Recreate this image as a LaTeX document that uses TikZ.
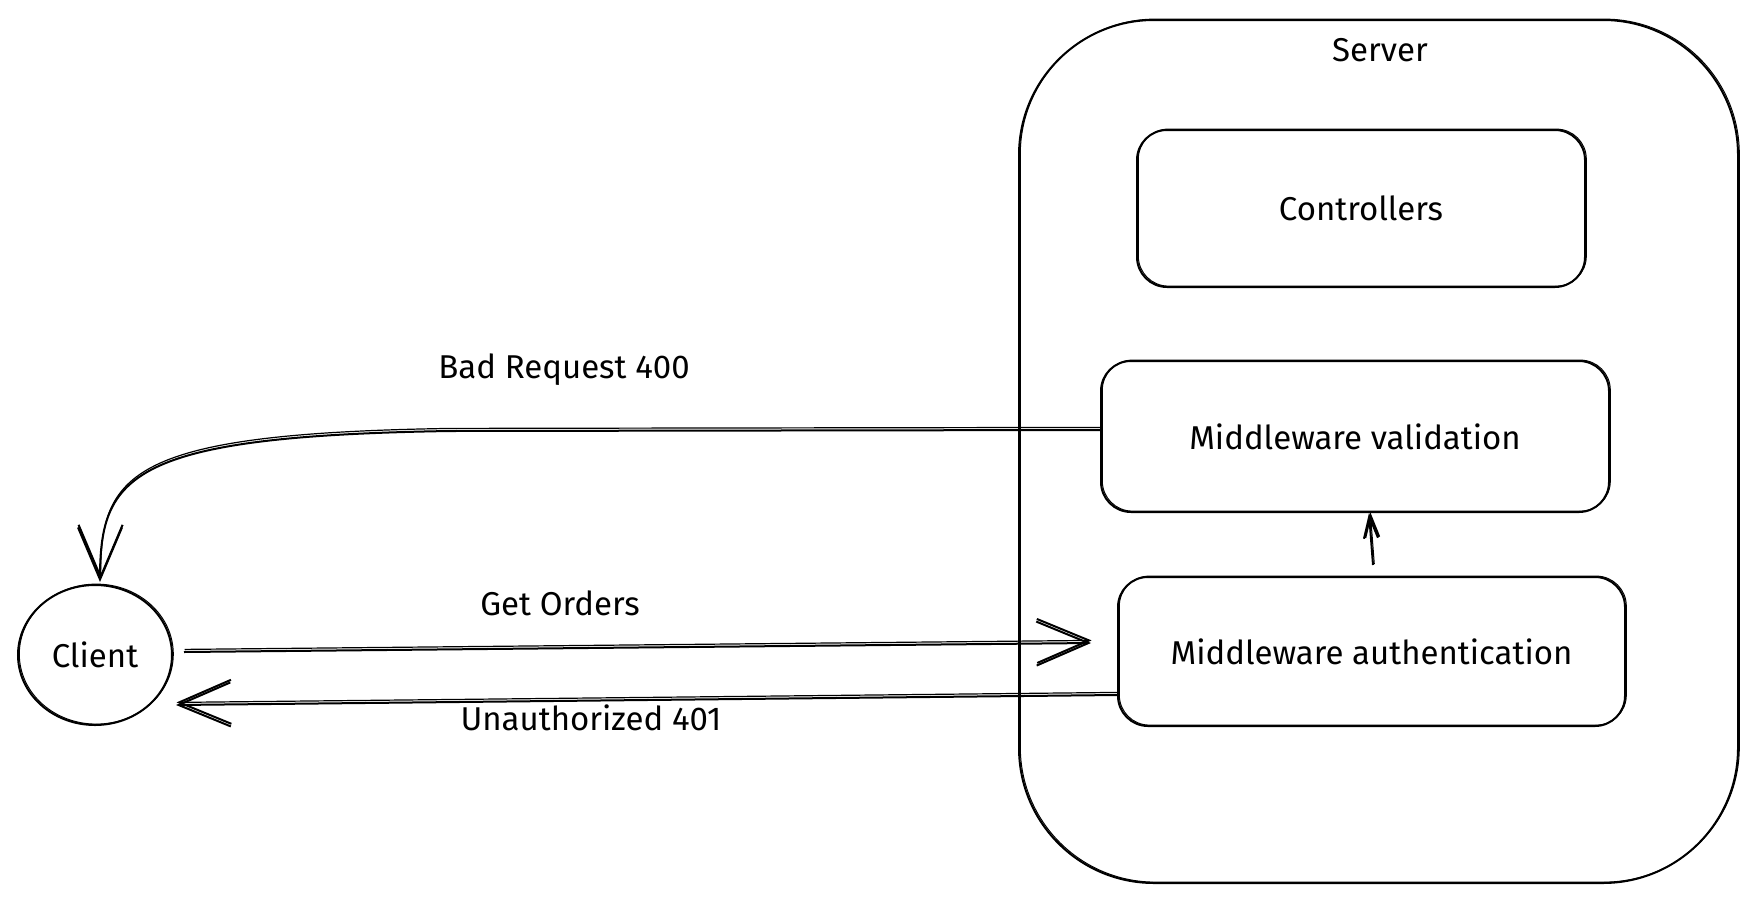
\documentclass[tikz,border=0pt]{standalone}
\usepackage{fontspec}
\setmainfont{Fira Sans}
\usetikzlibrary{arrows.meta,shapes.geometric}

\begin{document}
\begin{tikzpicture}[x=1pt,y=-1pt,
  ink/.style={line width=2pt, black},
  sketch/.style={ink, preaction={draw, line width=1pt,
      transform canvas={shift={(1.3pt,0.9pt)}}}},
  wire/.style={ink, preaction={draw, line width=1.2pt,
      transform canvas={shift={(0.6pt,2.6pt)}}}},
  box/.style={sketch, draw, rounded corners=30pt, inner sep=0pt},
  lbl/.style={font=\fontsize{33}{38}\selectfont},
  bigbarb/.style={-{Straight Barb[length=52pt,width=44pt,line width=2pt]}},
  smallbarb/.style={-{Straight Barb[length=22pt,width=14pt,line width=2pt]}},
]
\useasboundingbox (0,0) rectangle (1756,903);

% server container and its layers
\node[box, rounded corners=135pt, minimum width=719pt, minimum height=863pt] (server) at (1378.5,451.5) {};
\node[lbl] (servertitle) at (1380,50) {Server};
\node[box, minimum width=448pt, minimum height=157pt, lbl] (ctrl) at (1361,208.5) {Controllers};
\node[box, minimum width=508pt, minimum height=151pt, lbl] (val) at (1355,436.5) {Middleware validation};
\node[box, minimum width=507pt, minimum height=149pt, lbl] (auth) at (1371.5,651.5) {Middleware authentication};

% client
\node[sketch, draw, ellipse, inner sep=0pt, minimum width=154pt, minimum height=140pt, lbl] (client) at (95,655) {Client};

% request and responses
\draw[wire, bigbarb] ([xshift=11pt,yshift=3pt]client.east) -- ([xshift=-26pt,yshift=8.5pt]auth.west);
\draw[wire, bigbarb] ([yshift=-43.5pt]auth.west) -- ([xshift=3pt,yshift=-50pt]client.east);
\draw[wire, bigbarb] ([yshift=6.5pt]val.west) -- (450,431)
  .. controls (130,436) and (100,475) .. ([xshift=5pt,yshift=2pt]client.north);
\draw[sketch, smallbarb] ([xshift=1.5pt,yshift=11pt]auth.north) -- ([xshift=14pt]val.south);

% connector labels
\node[lbl] (badreq) at (564,370) {Bad Request 400};
\node[lbl] (getorders) at (560,603) {Get Orders};
\node[lbl] (unauth) at (591,718) {Unauthorized 401};
\end{tikzpicture}
\end{document}
